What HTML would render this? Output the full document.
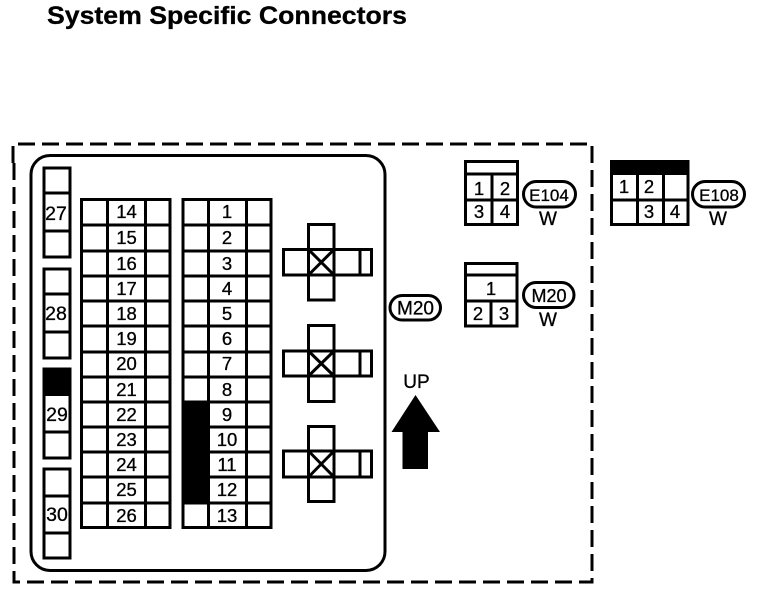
<!DOCTYPE html>
<html>
<head>
<meta charset="utf-8">
<style>
html,body{margin:0;padding:0;background:#fff;width:768px;height:592px;overflow:hidden}
svg{display:block}
text{font-family:"Liberation Sans",sans-serif;fill:#000;stroke:#000;stroke-width:.3;text-anchor:middle}
.n{font-size:18.500px}
.t{font-size:19.500px}
.l{stroke:#000;stroke-width:3;fill:none}
.th{stroke:#000;stroke-width:3;fill:none}
</style>
</head>
<body>
<svg width="768" height="592" viewBox="0 0 768 592" xmlns="http://www.w3.org/2000/svg">
<text x="47" y="24" style="text-anchor:start;font-weight:bold;font-size:25px" textLength="360" lengthAdjust="spacingAndGlyphs">System Specific Connectors</text>

<!-- outer dashed -->
<path d="M13 163V144H592V582H14V163" fill="none" stroke="#000" stroke-width="3" stroke-dasharray="17 7"/>
<!-- inner rounded -->
<rect x="31" y="155.500" width="354" height="415" rx="19" ry="19" class="th"/>

<!-- left column connectors -->
<g class="l">
<rect x="44" y="168" width="26" height="89"/><path d="M44 193H70M44 231H70"/>
<rect x="44" y="269" width="26" height="89"/><path d="M44 294H70M44 332H70"/>
<rect x="44" y="369" width="26" height="89"/><path d="M44 432H70"/>
<rect x="44" y="469" width="26" height="89"/><path d="M44 496H70M44 533H70"/>
</g>
<rect x="43" y="368" width="28" height="28" fill="#000"/>
<text x="56" y="220" class="t">27</text>
<text x="56" y="320" class="t">28</text>
<text x="57" y="421" class="t">29</text>
<text x="57" y="521" class="t">30</text>

<!-- grid left -->
<g class="l">
<rect x="81.500" y="199.500" width="88.500" height="328"/>
<path d="M107.500 199V528M145.500 199V528"/>
<path d="M81 225H170M81 251H170M81 276H170M81 301H170M81 326H170M81 352H170M81 377H170M81 402H170M81 427H170M81 452H170M81 477H170M81 503H170"/>
</g>
<!-- grid right -->
<rect x="183" y="402" width="25" height="101" fill="#000"/>
<g class="l">
<rect x="183" y="199.500" width="88" height="328"/>
<path d="M208.500 199V528M246.500 199V528"/>
<path d="M183 225H271M183 251H271M183 276H271M183 301H271M183 326H271M183 352H271M183 377H271M183 402H271M183 427H271M183 452H271M183 477H271M183 503H271"/>
</g>
<text x="126.500" y="218" class="n">14</text>
<text x="126.500" y="244" class="n">15</text>
<text x="126.500" y="270" class="n">16</text>
<text x="126.500" y="295" class="n">17</text>
<text x="126.500" y="320" class="n">18</text>
<text x="126.500" y="345" class="n">19</text>
<text x="126.500" y="370" class="n">20</text>
<text x="126.500" y="396" class="n">21</text>
<text x="126.500" y="421" class="n">22</text>
<text x="126.500" y="446" class="n">23</text>
<text x="126.500" y="471" class="n">24</text>
<text x="126.500" y="496" class="n">25</text>
<text x="126.500" y="522" class="n">26</text>
<text x="227" y="218" class="n">1</text>
<text x="227" y="244" class="n">2</text>
<text x="227" y="270" class="n">3</text>
<text x="227" y="295" class="n">4</text>
<text x="227" y="320" class="n">5</text>
<text x="227" y="345" class="n">6</text>
<text x="227" y="370" class="n">7</text>
<text x="227" y="396" class="n">8</text>
<text x="227" y="421" class="n">9</text>
<text x="227" y="446" class="n">10</text>
<text x="227" y="471" class="n">11</text>
<text x="227" y="496" class="n">12</text>
<text x="227" y="522" class="n">13</text>

<!-- crosses -->
<g class="l">
<path d="M308.500 249.500V224.500H334V249.500M308.500 275V300H334V275"/>
<rect x="283.500" y="249.500" width="88" height="25.500"/>
<path d="M308.500 249V275M334 249V275M360 249V275M308.500 249.500L334 275M334 249.500L308.500 275"/>

<path d="M308.500 351V325.500H334V351M308.500 376V401.500H334V376"/>
<rect x="283.500" y="351" width="88" height="25"/>
<path d="M308.500 351V376M334 351V376M360 351V376M308.500 351L334 376M334 351L308.500 376"/>

<path d="M308.500 451V426.500H334V451M308.500 477V501.500H334V477"/>
<rect x="283.500" y="451" width="88" height="26"/>
<path d="M308.500 451V477M334 451V477M360 451V477M308.500 451L334 477M334 451L308.500 477"/>
</g>

<!-- M20 label main -->
<rect x="390" y="295.500" width="50.500" height="24.500" rx="12.200" ry="12.200" class="l"/>
<text x="415.500" y="314.500" style="font-size:19px">M20</text>

<!-- UP arrow -->
<text x="416.500" y="388" style="font-size:19px">UP</text>
<path d="M415.500 395L440 432H428V469H402.500V432H391.500Z" fill="#000"/>

<!-- E104 -->
<g class="l">
<rect x="465.500" y="161.500" width="52" height="63"/>
<path d="M465 174H518M465 200H518M492 174V225"/>
<rect x="523.500" y="181.500" width="52" height="25.500" rx="12.700" ry="12.700"/>
</g>
<text x="479" y="195" class="n">1</text>
<text x="505" y="195" class="n">2</text>
<text x="479" y="218" class="n">3</text>
<text x="505" y="218" class="n">4</text>
<text x="549" y="201" style="font-size:17px">E104</text>
<text x="548" y="225" style="font-size:19px">W</text>

<!-- M20 -->
<g class="l">
<rect x="465.500" y="263.500" width="51.500" height="62.500"/>
<path d="M465 275H517M465 301H517M491 301V326"/>
<rect x="523.500" y="282.500" width="50.500" height="25" rx="12.500" ry="12.500"/>
</g>
<text x="491" y="295" class="n">1</text>
<text x="478" y="320" class="n">2</text>
<text x="504" y="320" class="n">3</text>
<text x="549" y="302" style="font-size:18px">M20</text>
<text x="548" y="326" style="font-size:19px">W</text>

<!-- E108 -->
<rect x="610" y="160" width="79" height="15" fill="#000"/>
<g class="l">
<rect x="611.500" y="161.500" width="76.500" height="63"/>
<path d="M611 200H688M637.500 174V225M663.500 174V225"/>
<rect x="692.500" y="181.500" width="52" height="25.500" rx="12.700" ry="12.700"/>
</g>
<text x="624" y="193" class="n">1</text>
<text x="649" y="193" class="n">2</text>
<text x="649" y="218" class="n">3</text>
<text x="675" y="218" class="n">4</text>
<text x="719" y="201" style="font-size:17px">E108</text>
<text x="718" y="225" style="font-size:19px">W</text>
</svg>
</body>
</html>
